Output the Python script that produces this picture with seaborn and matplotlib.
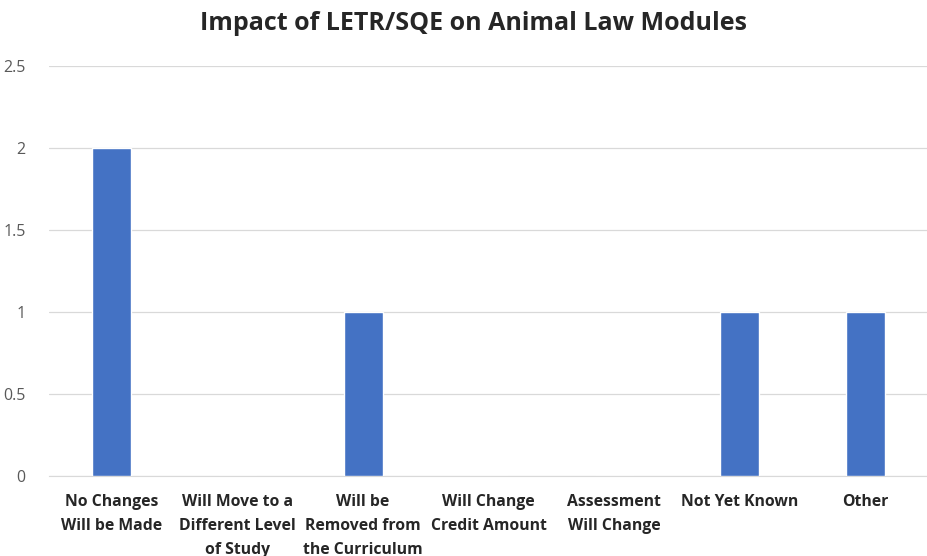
import pandas as pd
import seaborn as sns
import matplotlib.pyplot as plt
from matplotlib.ticker import FuncFormatter

# Chart data
categories = ['No Changes\nWill be Made', 'Will Move to a\nDifferent Level\nof Study',
              'Will be\nRemoved from\nthe Curriculum', 'Will Change\nCredit Amount',
              'Assessment\nWill Change', 'Not Yet Known', 'Other']
counts = [2, 0, 1, 0, 0, 1, 1]
y_ticks = [0, 0.5, 1, 1.5, 2, 2.5]

df = pd.DataFrame({'Category': categories, 'Count': counts})

sns.set_style('white')
plt.rcParams['font.family'] = ['Open Sans', 'DejaVu Sans']

fig = plt.figure(figsize=(9.28, 5.56), dpi=100)
ax = fig.add_axes([0.053, 0.144, 0.947, 0.737])

sns.barplot(data=df, x='Category', y='Count', color='#4472C4', width=0.31,
            saturation=1, ax=ax, zorder=3)

ax.set_ylim(0, 2.5)
ax.set_yticks(y_ticks)
ax.yaxis.set_major_formatter(FuncFormatter(lambda v, p: f'{v:g}'))
ax.grid(axis='y', color='#D9D9D9', linewidth=0.9, zorder=0)
ax.set_xlabel('')
ax.set_ylabel('')

for side in ['top', 'right', 'left']:
    ax.spines[side].set_visible(False)
ax.spines['bottom'].set_color('#D9D9D9')

ax.tick_params(axis='y', length=0, pad=17, labelsize=11.5, labelcolor='#595959')
ax.tick_params(axis='x', length=0, pad=13, labelsize=11.3)
for lab in ax.get_xticklabels():
    lab.set_fontweight('bold')
    lab.set_linespacing(1.65)

fig.suptitle('Impact of LETR/SQE on Animal Law Modules', x=0.51, y=0.98,
             fontsize=18, fontweight='bold')

fig.savefig('out.png', dpi=100)
